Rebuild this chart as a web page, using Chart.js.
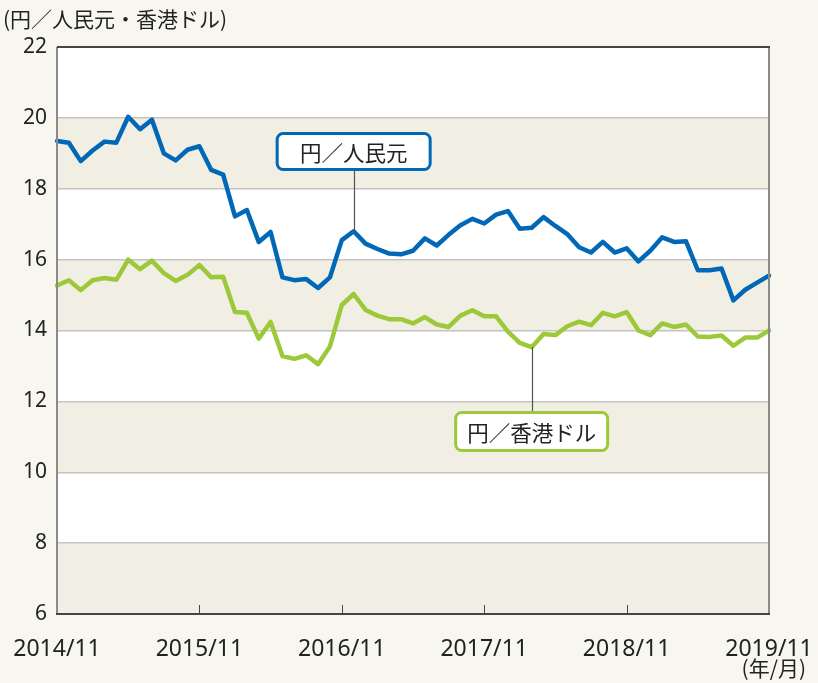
<!DOCTYPE html>
<html>
<head>
<meta charset="utf-8">
<script src="https://cdn.jsdelivr.net/npm/chart.js@4"></script>
<style>
  html, body { margin: 0; padding: 0; background: #f8f7ef; }
  canvas { display: block; }
</style>
</head>
<body>
<canvas id="chart" width="818" height="683"></canvas>
<script>
// Monthly, 2014/11 .. 2019/11
const startYear = 2014;
const startMonth = 11;
const months = [];
for (let i = 0; i < 61; i++) {
  const m = (startMonth - 1 + i) % 12 + 1;
  const y = startYear + Math.floor((startMonth - 1 + i) / 12);
  months.push(y + '/' + m);
}
const xTickLabels = ['2014/11', '2015/11', '2016/11', '2017/11', '2018/11', '2019/11'];
const yTicks = [6, 8, 10, 12, 14, 16, 18, 20, 22];

// 円／人民元
const cny = [19.35, 19.3, 18.78, 19.08, 19.33, 19.3, 20.03, 19.68, 19.95, 19.0,
             18.8, 19.1, 19.2, 18.53, 18.4, 17.22, 17.4, 16.5, 16.78, 15.5,
             15.42, 15.45, 15.2, 15.5, 16.55, 16.8, 16.45, 16.3, 16.17, 16.15,
             16.25, 16.6, 16.4, 16.7, 16.97, 17.15, 17.02, 17.27, 17.37, 16.87,
             16.9, 17.2, 16.95, 16.72, 16.35, 16.2, 16.5, 16.2, 16.32, 15.95,
             16.25, 16.63, 16.5, 16.52, 15.7, 15.7, 15.75, 14.85, 15.15, 15.35,
             15.55];
// 円／香港ドル
const hkd = [15.27, 15.42, 15.14, 15.42, 15.48, 15.43, 16.0, 15.73, 15.97, 15.62,
             15.4, 15.57, 15.85, 15.5, 15.52, 14.52, 14.5, 13.77, 14.24, 13.28,
             13.2, 13.3, 13.05, 13.55, 14.72, 15.03, 14.58, 14.42, 14.32, 14.32,
             14.2, 14.38, 14.17, 14.1, 14.42, 14.57, 14.4, 14.4, 13.97, 13.65,
             13.53, 13.9, 13.87, 14.12, 14.25, 14.15, 14.5, 14.4, 14.52, 14.0,
             13.87, 14.2, 14.1, 14.17, 13.83, 13.82, 13.86, 13.57, 13.8, 13.8,
             14.0];

const BLUE = '#0068b7';
const GREEN = '#9dc83a';
const CJK = '"Noto Sans CJK JP", "Noto Sans", sans-serif';

// callouts: text, series, point index, box centre (index, value)
const callouts = [
  { text: '円／人民元', color: BLUE, data: cny, at: 25, boxAt: 25, boxVal: 19.05, w: 153, h: 36 },
  { text: '円／香港ドル', color: GREEN, data: hkd, at: 40, boxAt: 40, boxVal: 11.15, w: 152, h: 38 }
];

function roundRect(ctx, x, y, w, h, r) {
  ctx.beginPath();
  ctx.moveTo(x + r, y);
  ctx.arcTo(x + w, y, x + w, y + h, r);
  ctx.arcTo(x + w, y + h, x, y + h, r);
  ctx.arcTo(x, y + h, x, y, r);
  ctx.arcTo(x, y, x + w, y, r);
  ctx.closePath();
}

const decor = {
  id: 'decor',
  beforeDraw(chart) {
    const { ctx, chartArea: a, scales: { y } } = chart;
    ctx.save();
    ctx.fillStyle = '#f8f7ef';
    ctx.fillRect(0, 0, chart.width, chart.height);
    ctx.fillStyle = '#ffffff';
    ctx.fillRect(a.left, a.top, a.right - a.left, a.bottom - a.top);
    ctx.fillStyle = '#f1efe3';
    for (let v = 6; v < 22; v += 4) {
      const top = y.getPixelForValue(v + 2);
      const bot = y.getPixelForValue(v);
      ctx.fillRect(a.left, top, a.right - a.left, bot - top);
    }
    ctx.restore();
  },
  afterDatasetsDraw(chart) {
    const { ctx, chartArea: a, scales: { x, y } } = chart;
    ctx.save();
    // frame
    ctx.lineWidth = 2;
    ctx.strokeStyle = '#8a8a8a';
    ctx.beginPath();
    ctx.moveTo(a.left, a.top); ctx.lineTo(a.left, a.bottom);
    ctx.moveTo(a.right, a.top); ctx.lineTo(a.right, a.bottom);
    ctx.stroke();
    ctx.strokeStyle = '#444';
    ctx.beginPath();
    ctx.moveTo(a.left, a.top); ctx.lineTo(a.right + 1, a.top);
    ctx.moveTo(a.left - 1, a.bottom); ctx.lineTo(a.right + 1, a.bottom);
    ctx.stroke();
    // year ticks inside the bottom edge
    ctx.lineWidth = 1;
    ctx.strokeStyle = '#444';
    ctx.beginPath();
    for (let i = 12; i < 60; i += 12) {
      const px = Math.round(x.getPixelForValue(i)) + 0.5;
      ctx.moveTo(px, a.bottom); ctx.lineTo(px, a.bottom - 9);
    }
    ctx.stroke();

    // callouts
    callouts.forEach(c => {
      const px = x.getPixelForValue(c.at);
      const py = y.getPixelForValue(c.data[c.at]);
      const bx = x.getPixelForValue(c.boxAt);
      const by = y.getPixelForValue(c.boxVal);
      ctx.strokeStyle = '#555';
      ctx.lineWidth = 1.2;
      ctx.beginPath();
      const edge = py < by ? by - c.h / 2 : by + c.h / 2;
      ctx.moveTo(Math.round(px) + 0.5, py);
      ctx.lineTo(Math.round(px) + 0.5, edge);
      ctx.stroke();
      roundRect(ctx, bx - c.w / 2, by - c.h / 2, c.w, c.h, 6);
      ctx.fillStyle = '#fff';
      ctx.fill();
      ctx.lineWidth = 3;
      ctx.strokeStyle = c.color;
      ctx.stroke();
      ctx.fillStyle = '#222';
      ctx.font = '21.5px ' + CJK;
      ctx.textAlign = 'center';
      ctx.textBaseline = 'middle';
      ctx.fillText(c.text, bx, by + 1);
    });

    // unit labels
    ctx.fillStyle = '#222';
    ctx.font = '21px ' + CJK;
    ctx.textAlign = 'left';
    ctx.textBaseline = 'middle';
    ctx.fillText('(円／人民元・香港ドル)', 3, 19);
    ctx.textAlign = 'right';
    ctx.fillText('(年/月)', 806, 668);
    ctx.restore();
  }
};

new Chart(document.getElementById('chart'), {
  type: 'line',
  data: {
    labels: months,
    datasets: [
      { label: '円／人民元', data: cny, borderColor: BLUE, borderWidth: 4.5,
        pointRadius: 0, tension: 0, borderJoinStyle: 'round', borderCapStyle: 'round' },
      { label: '円／香港ドル', data: hkd, borderColor: GREEN, borderWidth: 4.5,
        pointRadius: 0, tension: 0, borderJoinStyle: 'round', borderCapStyle: 'round' }
    ]
  },
  options: {
    responsive: false,
    animation: false,
    layout: { padding: { left: 0, right: 49, top: 47, bottom: 0 } },
    plugins: { legend: { display: false }, tooltip: { enabled: false } },
    scales: {
      x: {
        offset: false,
        grid: { display: false },
        border: { display: false },
        ticks: {
          autoSkip: false,
          maxRotation: 0,
          padding: 14,
          color: '#222',
          font: { family: '"Noto Sans", sans-serif', size: 23 },
          callback: (v, i) => (i % 12 === 0 ? xTickLabels[i / 12] : '')
        },
        afterFit: s => { s.height = 69; s.paddingLeft = 0; s.paddingRight = 0; }
      },
      y: {
        min: 6,
        max: 22,
        grid: { color: '#c4c4c4', lineWidth: 1.5, drawTicks: false },
        border: { display: false },
        ticks: {
          stepSize: 2,
          padding: 10,
          color: '#222',
          font: { family: '"Noto Sans", sans-serif', size: 21 },
          callback: v => (yTicks.includes(v) ? v : '')
        },
        afterFit: s => { s.width = 57; s.paddingTop = 0; s.paddingBottom = 0; }
      }
    }
  },
  plugins: [decor]
});
</script>
</body>
</html>
